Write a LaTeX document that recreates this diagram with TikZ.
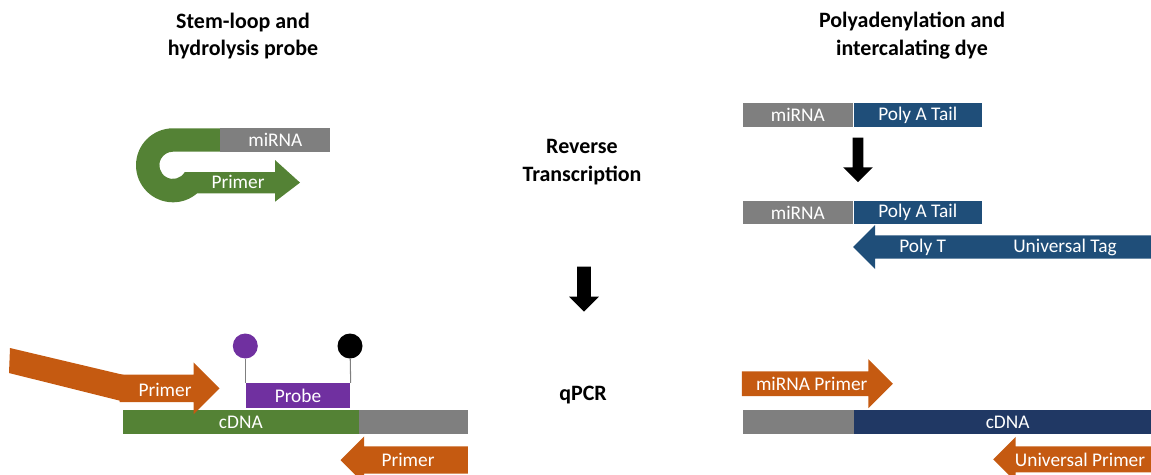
\documentclass[tikz,border=0pt]{standalone}
\usepackage{fontspec}
\setmainfont{Carlito}
\usepackage{tikz}
\usetikzlibrary{positioning,shapes.arrows}
\usepackage{xcolor}
\definecolor{RNAGray}{RGB}{127,127,127}
\definecolor{LoopGreen}{RGB}{84,130,53}
\definecolor{PrimerOrange}{RGB}{197,90,17}
\definecolor{TailBlue}{RGB}{31,78,121}
\definecolor{CDNANavy}{RGB}{32,56,100}
\definecolor{ProbePurple}{RGB}{112,48,160}
\newcommand{\lab}{\fontsize{11}{13}\selectfont}
\newcommand{\hdr}{\fontsize{12.5}{15.9}\selectfont\bfseries}

\begin{document}
\begin{tikzpicture}[
x=0.02cm,y=0.02cm,
node distance=0pt,
bar/.style={
    rectangle,
    inner sep=0pt,
    minimum height=4.8mm,
    text=white,
    font=\lab
},
heading/.style={align=center,font=\hdr},
lbl/.style={inner sep=0pt,text=white,font=\lab},
blockarr/.style={
    single arrow,
    single arrow tip angle=90,
    inner sep=0pt,
    anchor=tip
},
downarr/.style={blockarr,fill=black,rotate=-90},
dye/.style={circle,inner sep=0pt,minimum size=5mm},
stem/.style={draw=RNAGray,line width=0.6pt}
]
\useasboundingbox (0,0) rectangle (1151,-474);
\clip (0,0) rectangle (1151,-474);

\node[heading] (h1) at (243,-36) {Stem-loop and\\hydrolysis probe};
\node[heading] (h2) at (912,-36) {Polyadenylation and\\intercalating dye};
\node[heading] (rt) at (582,-162) {Reverse\\Transcription};
\node[heading] (qpcr) at (583,-395) {qPCR};

\node[downarr,inner sep=0.13cm,single arrow head extend=0.16cm,minimum height=0.9cm] (d1) at (584,-312) {};

% stem-loop primer
\fill[LoopGreen] (222,-128.3) -- (173,-128.3) arc[start angle=90,end angle=310.8,radius=37]
  -- (275,-193.3) -- (275,-201.7) -- (300,-182.6) -- (275,-160) -- (275,-172)
  -- (184.8,-172) arc[start angle=-29.5,end angle=-270,radius=13.6] -- (222,-151.7) -- cycle;
\node[bar,fill=RNAGray,minimum width=2.2cm,anchor=west] (loopmir) at (220,-140.3) {miRNA};
\node[lbl] (loopprim) at (238,-182) {Primer};

% probe assay
\node[bar,fill=LoopGreen,minimum width=4.712cm,anchor=west] (cdna1) at (122.7,-422.2) {cDNA};
\node[bar,fill=RNAGray,minimum width=2.18cm,right=of cdna1] (cdna1b) {};
\node[bar,fill=ProbePurple,minimum width=2.094cm,minimum height=5mm,anchor=west] (probe) at (245.3,-395.8) {Probe};
\node[dye,fill=ProbePurple] (rep) at (245.3,-346) {};
\node[dye,fill=black] (quen) at (350,-346) {};
\draw[stem] (probe.north west) -- (rep);
\draw[stem] (probe.north east) -- (quen);
\fill[PrimerOrange] (10,-348) -- (124,-375) -- (124,-401.7) -- (9,-373) -- cycle;
\node[blockarr,fill=PrimerOrange,inner ysep=0.267cm,single arrow head extend=0.244cm,minimum height=2cm] (fwd) at (220,-388.3) {};
\node[lbl] (fwdl) at (165,-390) {Primer};
\node[blockarr,fill=PrimerOrange,rotate=180,inner ysep=0.266cm,single arrow head extend=0.2cm,minimum height=2.546cm] (rev) at (340,-460) {};
\node[lbl] (revl) at (408,-460) {Primer};

% polyadenylation
\node[bar,fill=RNAGray,minimum width=2.208cm,minimum height=4.7mm,anchor=west] (mir1) at (742.3,-115) {miRNA};
\node[bar,fill=TailBlue,minimum width=2.56cm,minimum height=4.7mm,right=of mir1] (tail1) {Poly A Tail};
\node[downarr,inner sep=0.1cm,single arrow head extend=0.19cm,minimum height=0.894cm] (d2) at (858,-182.7) {};
\node[bar,fill=RNAGray,minimum width=2.208cm,minimum height=4.7mm,anchor=west] (mir2) at (742.3,-212.5) {miRNA};
\node[bar,fill=TailBlue,minimum width=2.56cm,minimum height=4.7mm,right=of mir2] (tail2) {Poly A Tail};
\node[blockarr,fill=TailBlue,rotate=180,inner ysep=0.226cm,single arrow head extend=0.207cm,minimum height=6.2cm] (polyt) at (852.7,-247) {};
\node[lbl] (polytl) at (922.7,-247) {Poly T};
\node[lbl] (tagl) at (1065,-247) {Universal Tag};

% intercalating dye qPCR
\node[blockarr,fill=PrimerOrange,inner ysep=0.24cm,single arrow head extend=0.243cm,minimum height=3.02cm] (mirp) at (893.3,-383.7) {};
\node[lbl] (mirpl) at (811.7,-384) {miRNA Primer};
\node[bar,fill=RNAGray,minimum width=2.22cm,anchor=west] (cdna2a) at (742.3,-422) {};
\node[bar,fill=CDNANavy,minimum width=6.134cm,right=of cdna2a] (cdna2) {cDNA};
\node[blockarr,fill=PrimerOrange,rotate=180,inner ysep=0.252cm,single arrow head extend=0.188cm,minimum height=3.4cm] (unip) at (992.7,-459.3) {};
\node[lbl] (unipl) at (1080,-460) {Universal Primer};

\end{tikzpicture}
\end{document}
